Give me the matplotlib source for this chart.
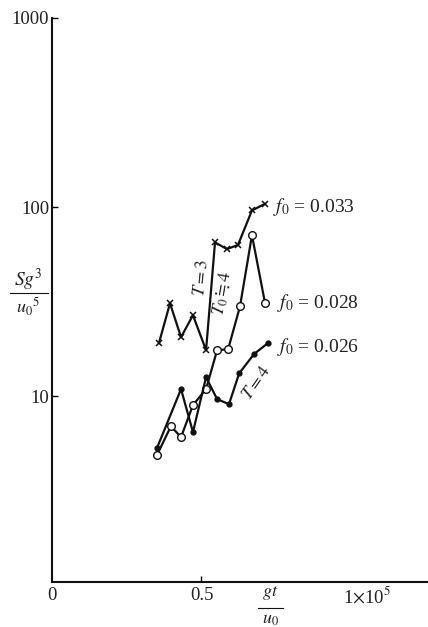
import matplotlib
matplotlib.use("Agg")
import matplotlib.pyplot as plt
from matplotlib.lines import Line2D

plt.rcParams['font.family'] = ['Liberation Serif', 'DejaVu Serif']
plt.rcParams['mathtext.fontset'] = 'stix'
plt.rcParams['text.color'] = '#222222'

# data (x in units of 1e5 gt/u0, y = S g^3 / u0^5)
x_033 = [0.359, 0.396, 0.433, 0.473, 0.517, 0.547, 0.587, 0.624, 0.671, 0.715]
y_033 = [19.1, 31.0, 20.5, 26.8, 17.5, 65.0, 60.0, 63.0, 96.0, 104.0]

x_028 = [0.352, 0.399, 0.433, 0.473, 0.517, 0.554, 0.591, 0.631, 0.671, 0.715]
y_028 = [4.87, 6.93, 6.07, 8.96, 10.9, 17.5, 17.7, 29.9, 71.0, 31.0]

x_026 = [0.352, 0.433, 0.473, 0.517, 0.554, 0.594, 0.628, 0.678, 0.725]
y_026 = [5.3, 10.9, 6.46, 12.6, 9.64, 9.07, 13.2, 16.7, 19.1]

W, H = 428, 627
fig = plt.figure(figsize=(W / 100, H / 100), dpi=100)
ax = fig.add_axes([52 / W, 1 - 582 / H, (W - 52) / W, (582 - 18) / H])
ax.set_yscale('log')
ax.set_xlim(0, (W - 52) / 298)
ax.set_ylim(1.04, 1000)

for s in ['top', 'right']:
    ax.spines[s].set_visible(False)
for s in ['left', 'bottom']:
    ax.spines[s].set_linewidth(1.5)
    ax.spines[s].set_color('#111111')

ax.set_yticks([10, 100, 1000])
ax.set_yticklabels(['10', '100', '1000'])
ax.yaxis.set_minor_locator(matplotlib.ticker.NullLocator())
ax.set_xticks([0.5])
ax.set_xticklabels([])
ax.tick_params(axis='both', direction='in', length=4, width=1.0, labelsize=13.5,
               labelcolor='#222222')
ax.tick_params(axis='y', pad=2)

lc = '#111111'
ax.plot(x_033, y_033, color=lc, lw=1.6, marker='x', ms=5, mew=1.1, clip_on=False)
ax.plot(x_028, y_028, color=lc, lw=1.6, marker='o', ms=5.5, mfc='white', mec=lc, mew=1.0, clip_on=False)
ax.plot(x_026, y_026, color=lc, lw=1.6, marker='o', ms=3.5, mfc=lc, mec=lc, clip_on=False)

def ft(x, y, s, **kw):
    fig.text(x / W, 1 - y / H, s, **kw)

# x tick labels
ft(52, 596, '0', ha='center', va='center', fontsize=13.5)
ft(202, 596, '0.5', ha='center', va='center', fontsize=13.5)
ft(343, 596, r'1$\times$10$^{5}$', ha='left', va='center', fontsize=13.5)

# x label
ft(270, 593, r'$gt$', ha='center', va='center', fontsize=13)
fig.add_artist(Line2D([258 / W, 283 / W], [1 - 608 / H, 1 - 608 / H], color=lc, lw=0.8))
ft(270, 619, r'$u_0$', ha='center', va='center', fontsize=13)

# y label
ft(28, 280, r'$Sg^3$', ha='center', va='center', fontsize=14)
fig.add_artist(Line2D([10 / W, 48 / W], [1 - 293 / H, 1 - 293 / H], color=lc, lw=0.8))
ft(28, 307, r'$u_0{}^5$', ha='center', va='center', fontsize=13)

# series labels
ft(273, 207, r'$f_0$ = 0.033', ha='left', va='center', fontsize=14)
ft(277, 303, r'$f_0$ = 0.028', ha='left', va='center', fontsize=14)
ft(277, 347, r'$f_0$ = 0.026', ha='left', va='center', fontsize=14)

# rotated annotations
ft(201, 278, r'$T=3$', ha='center', va='center', fontsize=13, rotation=84)
ft(223, 293, r'$T_0\fallingdotseq4$', ha='center', va='center', fontsize=13, rotation=80)
ft(257, 383, r'$T=4$', ha='center', va='center', fontsize=13, rotation=55)

fig.savefig('out.png', dpi=100)
